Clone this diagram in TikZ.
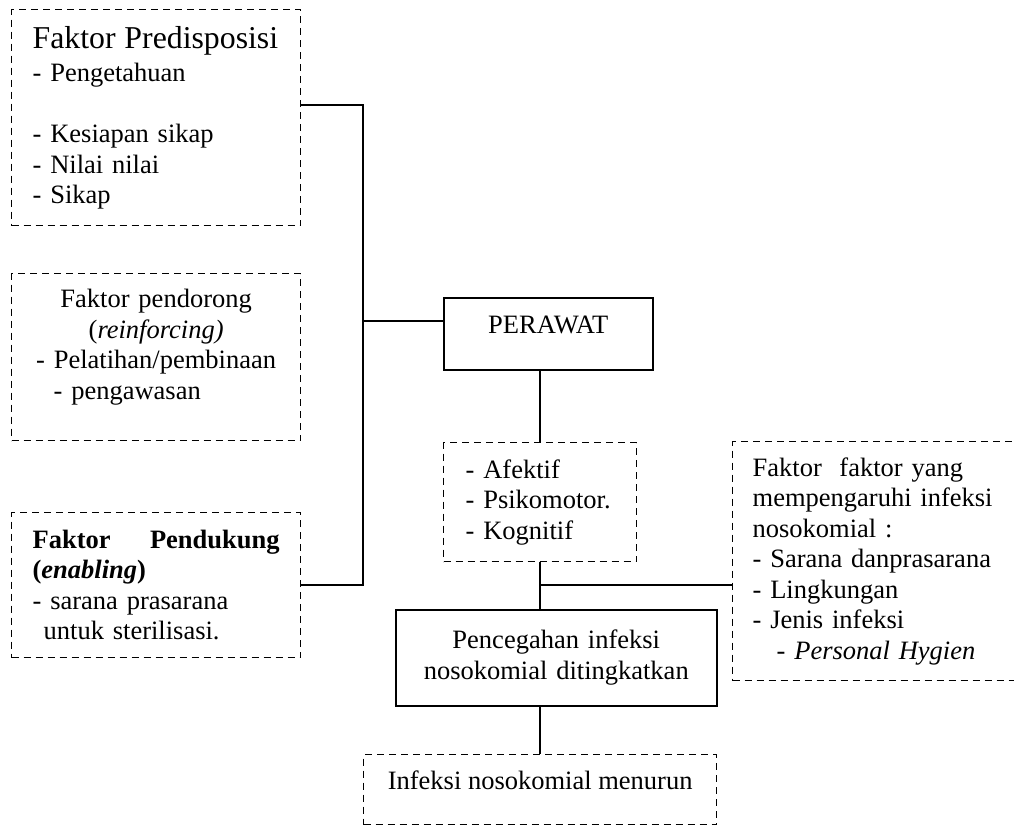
\documentclass[tikz,border=0pt]{standalone}
\usepackage{fontspec}
\setmainfont{Liberation Serif}
\usepackage{tikz}
\usetikzlibrary{positioning,calc}
\tikzstyle{dashbox} = [rectangle, draw=black, dash pattern=on 3.5pt off 2.5pt, line width=0.65pt, inner sep=0pt, anchor=north west, font=\fontsize{13.25}{15.25}\selectfont]
\tikzstyle{solidbox} = [rectangle, draw=black, line width=0.75pt, inner sep=0pt, anchor=north west, font=\fontsize{13.25}{15.25}\selectfont]
\tikzstyle{link} = [line width=0.75pt]

\begin{document}
\begin{tikzpicture}
		[x=0.5pt, y=-0.5pt]
		\useasboundingbox (0,0) rectangle (1014,826);
		\clip (0,0) rectangle (1014,826);
		\node[dashbox, minimum width=144.5pt, minimum height=108pt, text width=123.5pt, align=left] (predis) at (11,9) {\mbox{\fontsize{15.9}{18}\selectfont Faktor Predisposisi}\\[1.5pt]
		- Pengetahuan\\
		\mbox{}\\
		- Kesiapan sikap\\
		- Nilai nilai\\
		- Sikap
		};
		\node[dashbox, minimum width=144.5pt, minimum height=83.5pt, text width=123.5pt, align=center] (dorong) at (11,273) {Faktor pendorong\\
		(\textit{reinforcing)}\\
		- Pelatihan/pembinaan\\
		\makebox[\linewidth][l]{\hspace*{10.5pt}- pengawasan}\\[-2.5pt]
		\mbox{}
		};
		\node[dashbox, minimum width=144.5pt, minimum height=72.5pt, text width=123.5pt, align=left] (dukung) at (11,512) {\textbf{Faktor}\hfill\textbf{Pendukung}\\
		\textbf{(\textit{enabling})}\\
		- sarana prasarana\\
		\hspace*{5.5pt}untuk sterilisasi.
		};
		\node[solidbox, minimum width=104.5pt, minimum height=36pt, text height=9pt, text depth=9pt] (perawat) at (443,297) {PERAWAT};
		\node[dashbox, minimum width=96.5pt, minimum height=59.5pt, text width=74.5pt, align=left] (afektif) at (443,442) {- Afektif\\
		- Psikomotor.\\
		- Kognitif
		};
		\node[dashbox, minimum width=145pt, minimum height=119.5pt, text width=125pt, align=left] (faktor) at (732,441) {Faktor\ \ faktor yang\\
		mempengaruhi infeksi\\
		nosokomial :\\
		- Sarana danprasarana\\
		- Lingkungan\\
		- Jenis infeksi\\
		\hspace*{12pt}- \textit{Personal Hygien}
		};
		\node[solidbox, minimum width=160.5pt, minimum height=48pt, text width=150pt, align=center] (cegah) at (395,609) {Pencegahan infeksi\\
		nosokomial ditingkatkan
		};
		\node[dashbox, minimum width=176.5pt, minimum height=35pt, text height=9pt, text depth=9pt] (turun) at (363,754) {Infeksi nosokomial menurun};
		
		\coordinate (jointop) at (363,105);
		\coordinate (joinmid) at (363,321);
		\coordinate (joinbot) at (363,585);
		\coordinate (branch) at (539.5,585);
		
		\draw[link] (predis.east |- jointop) -- (jointop) -- (joinbot) -- (dukung.east |- joinbot);
		\draw[link] (joinmid) -- (perawat.west |- joinmid);
		\draw[link] (perawat.south -| afektif.north) -- (afektif.north);
		\draw[link] (afektif.south) -- (cegah.north -| afektif.south);
		\draw[link] (branch) -- (faktor.west |- branch);
		\draw[link] (cegah.south -| turun.north) -- (turun.north);
		\end{tikzpicture}
\end{document}
